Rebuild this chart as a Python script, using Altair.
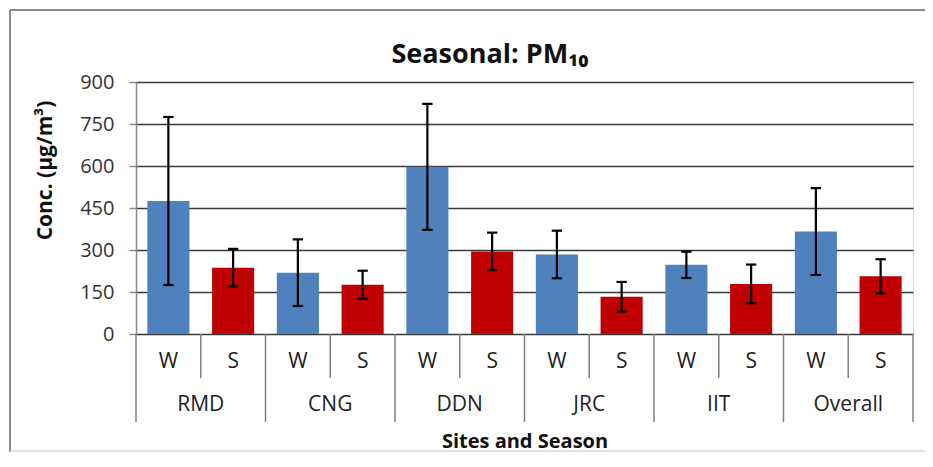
import altair as alt
import pandas as pd

sites = ["RMD", "CNG", "DDN", "JRC", "IIT", "Overall"]
seasons = ["W", "S"]
winter_mean = [475, 219, 597, 284, 247, 366]
winter_sd = [300, 119, 225, 85, 47, 155]
summer_mean = [237, 176, 295, 133, 179, 206]
summer_sd = [67, 50, 67, 53, 69, 61]
y_ticks = [0, 150, 300, 450, 600, 750, 900]
chart_title = ["Seasonal: PM₁₀"]

FONT = "Open Sans"
rows = []
for i, site in enumerate(sites):
    for j, season in enumerate(seasons):
        m = winter_mean[i] if season == "W" else summer_mean[i]
        s = winter_sd[i] if season == "W" else summer_sd[i]
        pos = 2 * i + j
        rows.append(dict(site=site, season=season, mean=m, lo=m - s, hi=m + s,
                         left=pos + 0.175, right=pos + 0.825, center=pos + 0.5,
                         capL=pos + 0.42, capR=pos + 0.58))
df = pd.DataFrame(rows)

site_df = pd.DataFrame({"site": sites, "center": [2 * i + 1 for i in range(len(sites))]})
short_div = pd.DataFrame({"b": [2 * i + 1 for i in range(len(sites))]})
long_div = pd.DataFrame({"b": [2 * i for i in range(len(sites) + 1)]})
title_df = pd.DataFrame({"t": chart_title})

xscale = alt.Scale(domain=[0, 2 * len(sites)], nice=False, zero=False)
xaxis = alt.Axis(title="Sites and Season", labels=False, ticks=False, domain=False, grid=False,
                 titleFont=FONT, titleFontSize=20, titleFontWeight="bold", titleColor="#111",
                 titleY=107, titleBaseline="middle")
yscale = alt.Scale(domain=[0, 900], nice=False)
yaxis = alt.Axis(title="Conc. (µg/m³)", values=y_ticks, grid=True, gridColor="#3a3a3a",
                 gridWidth=1.5, domainColor="#8a8a8a", domainWidth=1.5, tickColor="#8a8a8a",
                 tickWidth=1.5, tickSize=7, labelFont=FONT, labelFontSize=20, labelColor="#333",
                 labelPadding=15, titleFont=FONT, titleFontSize=21, titleFontWeight="bold",
                 titleColor="#111", titleAngle=-90, titleX=-91, titleY=88,
                 titleAlign="center", titleBaseline="middle")

base = alt.Chart(df)

bars = base.mark_bar().encode(
    x=alt.X("left:Q", scale=xscale, axis=xaxis),
    x2="right:Q",
    y=alt.Y("mean:Q", scale=yscale, axis=yaxis),
    y2=alt.datum(0),
    color=alt.Color("season:N", scale=alt.Scale(domain=seasons, range=["#4F81BD", "#C00000"]), legend=None),
)
err = base.mark_rule(color="black", strokeWidth=2.2).encode(
    x=alt.X("center:Q", scale=xscale, axis=xaxis),
    y=alt.Y("lo:Q", scale=yscale, axis=yaxis),
    y2="hi:Q",
)
cap_hi = base.mark_rule(color="black", strokeWidth=2.2).encode(
    x=alt.X("capL:Q", scale=xscale, axis=xaxis), x2="capR:Q",
    y=alt.Y("hi:Q", scale=yscale, axis=yaxis),
)
cap_lo = base.mark_rule(color="black", strokeWidth=2.2).encode(
    x=alt.X("capL:Q", scale=xscale, axis=xaxis), x2="capR:Q",
    y=alt.Y("lo:Q", scale=yscale, axis=yaxis),
)
season_txt = base.mark_text(font=FONT, fontSize=21, color="#222", baseline="middle").encode(
    x=alt.X("center:Q", scale=xscale, axis=xaxis),
    y=alt.value(280),
    text="season:N",
)
site_txt = alt.Chart(site_df).mark_text(font=FONT, fontSize=21, color="#222", baseline="middle").encode(
    x=alt.X("center:Q", scale=xscale, axis=xaxis),
    y=alt.value(323),
    text="site:N",
)
short_rules = alt.Chart(short_div).mark_rule(color="#7f7f7f", strokeWidth=1.5).encode(
    x=alt.X("b:Q", scale=xscale, axis=xaxis), y=alt.value(252), y2=alt.value(296),
)
long_rules = alt.Chart(long_div).mark_rule(color="#7f7f7f", strokeWidth=1.5).encode(
    x=alt.X("b:Q", scale=xscale, axis=xaxis), y=alt.value(252), y2=alt.value(340),
)
title_txt = alt.Chart(title_df).mark_text(font=FONT, fontSize=27, fontWeight="bold", color="#111",
                                          baseline="middle", align="center").encode(
    x=alt.value(354), y=alt.value(-27), text="t:N")
frame_top = alt.Chart(title_df).mark_rule(color="#8c8c8c", strokeWidth=2).encode(
    x=alt.value(-126), x2=alt.value(789), y=alt.value(-72))
frame_left = alt.Chart(title_df).mark_rule(color="#8c8c8c", strokeWidth=2).encode(
    x=alt.value(-126), y=alt.value(-72), y2=alt.value(370))
frame_bot = alt.Chart(title_df).mark_rule(color="#d9d9d9", strokeWidth=1.5).encode(
    x=alt.value(-126), x2=alt.value(789), y=alt.value(369))

chart = alt.layer(
    bars, err, cap_hi, cap_lo, short_rules, long_rules, season_txt, site_txt,
    title_txt, frame_top, frame_left, frame_bot,
).properties(
    width=777, height=252,
    autosize=alt.AutoSizeParams(type="none"),
    padding={"left": 128, "top": 74, "right": 12, "bottom": 118},
).configure_view(stroke=None).configure(background="white")

chart.save("out.html", embed_options={"renderer": "svg", "actions": False})
